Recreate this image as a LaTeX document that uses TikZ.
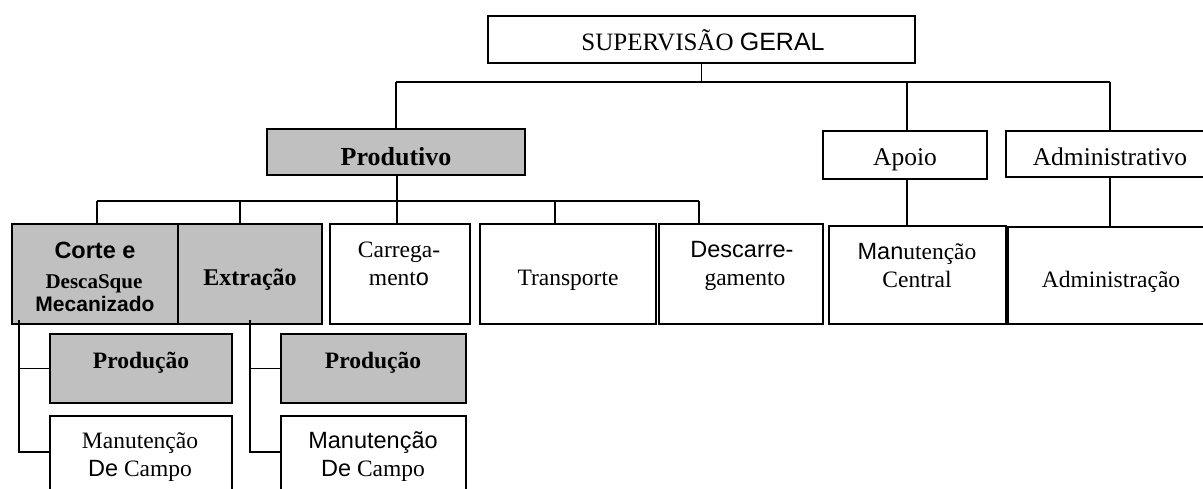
\documentclass[tikz,border=0pt]{standalone}
\usepackage{fontspec}
\setmainfont{Liberation Serif}
\newfontfamily\arialf{Liberation Sans}
\definecolor{boxgray}{RGB}{192,192,192}
\tikzset{
  box/.style={draw=black, line width=2.5pt, fill=white, inner sep=0pt, outer sep=0pt},
  gbox/.style={box, fill=boxgray},
  conn/.style={draw=black, line width=1.8pt},
  txt/.style={anchor=base, inner sep=0pt, outer sep=0pt, text=black},
  fA/.style={font=\fontsize{25.5}{30}\selectfont},
  fB/.style={font=\fontsize{23.5}{28}\selectfont},
}
\begin{document}
\begin{tikzpicture}[x=1pt,y=-1pt]
\clip (0,0) rectangle (1203,488);
\fill[white] (0,0) rectangle (1203,488);
% boxes
\node[box, minimum width=427, minimum height=47] (sup) at (701.5,39.5) {};
\node[gbox, minimum width=258, minimum height=46] (prod) at (396,152) {};
\node[box, minimum width=164, minimum height=48] (apoio) at (905,155) {};
\node[box, minimum width=214, minimum height=46] (admv) at (1113,154) {};
\node[gbox, minimum width=166, minimum height=100] (corte) at (95,274) {};
\node[gbox, minimum width=144, minimum height=100] (extr) at (250,274) {};
\node[box, minimum width=140, minimum height=100] (carr) at (400,274) {};
\node[box, minimum width=176, minimum height=100] (trans) at (568,274) {};
\node[box, minimum width=164, minimum height=100] (desc) at (741,274) {};
\node[box, minimum width=177, minimum height=98] (manc) at (917.5,275) {};
\node[box, minimum width=212, minimum height=97] (admn) at (1114,275.5) {};
\node[gbox, minimum width=182, minimum height=69] (prod1) at (141,368.5) {};
\node[gbox, minimum width=185, minimum height=69] (prod2) at (373.5,368.5) {};
\node[box, minimum width=182, minimum height=84] (man1) at (141,458) {};
\node[box, minimum width=185, minimum height=84] (man2) at (373.5,458) {};
% connector points
\coordinate (t0) at (396,82);
\coordinate (t1) at (907,82);
\coordinate (t2) at (1110,82);
\coordinate (p0) at (97,201);
\coordinate (p1) at (240,201);
\coordinate (p2) at (397,201);
\coordinate (p3) at (555,201);
\coordinate (p4) at (699,201);
\coordinate (c0) at (19,320);
\coordinate (c1) at (19,368.5);
\coordinate (c2) at (19,452);
\coordinate (e0) at (250,320);
\coordinate (e1) at (250,368.5);
\coordinate (e2) at (250,452);
% connectors
\draw[conn] (sup.south) -- (sup.south |- t0);
\draw[conn] (t0) -- (t2);
\draw[conn] (t0) -- (t0 |- prod.north);
\draw[conn] (t1) -- (t1 |- apoio.north);
\draw[conn] (t2) -- (t2 |- admv.north);
\draw[conn] (prod.south -| p2) -- (p2);
\draw[conn] (p0) -- (p4);
\draw[conn] (p0) -- (p0 |- corte.north);
\draw[conn] (p1) -- (p1 |- extr.north);
\draw[conn] (p2) -- (p2 |- carr.north);
\draw[conn] (p3) -- (p3 |- trans.north);
\draw[conn] (p4) -- (p4 |- desc.north);
\draw[conn] (apoio.south -| t1) -- (t1 |- manc.north);
\draw[conn] (admv.south -| t2) -- (t2 |- admn.north);
\draw[conn] (c0) -- (c2) -- (c2 -| man1.west);
\draw[conn] (c1) -- (c1 -| prod1.west);
\draw[conn] (e0) -- (e2) -- (e2 -| man2.west);
\draw[conn] (e1) -- (e1 -| prod2.west);
% texts
\node[txt, font=\fontsize{25}{30}\selectfont] (sup-t) at (703,50) {SUPERVISÃO {\arialf GERAL}};
\node[txt, font=\fontsize{26}{30}\selectfont\bfseries] (prod-t) at (396,165) {Produtivo};
\node[txt, fA] (apoio-t) at (905,165) {Apoio};
\node[txt, fA] (admv-t) at (1110,165) {Administrativo};
\node[txt, font=\fontsize{23.5}{28}\selectfont\arialf\bfseries] (corte-t1) at (95,258) {Corte e};
\node[txt, font=\fontsize{21}{25}\selectfont\bfseries] (corte-t2) at (94,288) {DescaSque};
\node[txt, font=\fontsize{21}{25}\selectfont\arialf\bfseries] (corte-t3) at (95,311) {Mecanizado};
\node[txt, font=\fontsize{24}{28}\selectfont\bfseries] (extr-t) at (250,285) {Extração};
\node[txt, fB] (carr-t1) at (399,257) {Carrega-};
\node[txt, fB] (carr-t2) at (399,285) {ment{\arialf o}};
\node[txt, fB] (trans-t) at (568,285) {Transporte};
\node[txt, fB] (desc-t1) at (742,257) {\arialf Descarre-};
\node[txt, fB] (desc-t2) at (745,285) {gamento};
\node[txt, fB] (manc-t1) at (917,259) {{\arialf Man}utenção};
\node[txt, fB] (manc-t2) at (917,287) {Central};
\node[txt, fB] (admn-t) at (1111,287) {Administração};
\node[txt, font=\fontsize{23.5}{28}\selectfont\bfseries] (prod1-t) at (141,368) {Produção};
\node[txt, font=\fontsize{23.5}{28}\selectfont\bfseries] (prod2-t) at (373,368) {Produção};
\node[txt, fB] (man1-t1) at (140,448) {Manutenção};
\node[txt, fB] (man1-t2) at (140,476) {{\arialf De} Campo};
\node[txt, fB] (man2-t1) at (373,448) {\arialf Manutenção};
\node[txt, fB] (man2-t2) at (373,476) {{\arialf De} Campo};
\end{tikzpicture}
\end{document}
